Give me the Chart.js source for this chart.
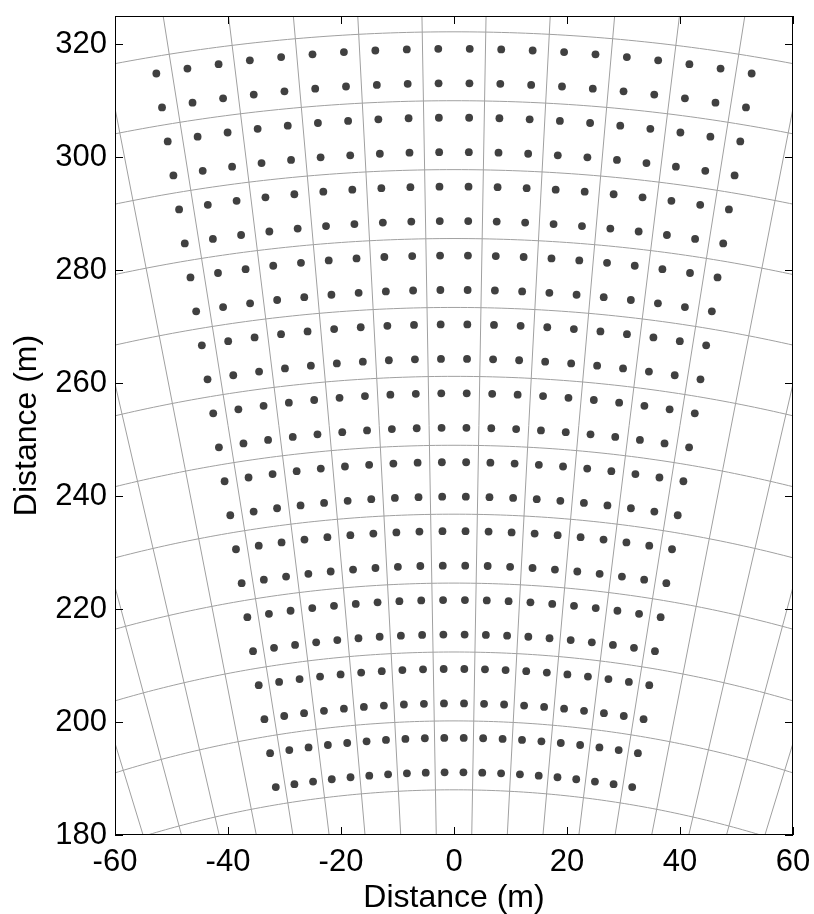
<!DOCTYPE html>
<html>
<head>
<meta charset="utf-8">
<script src="https://cdn.jsdelivr.net/npm/chart.js@4.4.1/dist/chart.umd.min.js"></script>
<style>
    html, body { margin: 0; padding: 0; background: #fff; }
    #wrap { width: 814px; height: 914px; }
</style>
</head>
<body>
<div id="wrap"><canvas id="gateChart"></canvas></div>
<script>
// range gates (m) of the sample points, near to far
const gateRanges = [191.1, 197.2, 203.3, 209.4, 215.5, 221.6, 227.7, 233.8, 239.9, 246.0, 252.1,
    258.2, 264.3, 270.4, 276.5, 282.6, 288.7, 294.8, 300.9, 307.0, 313.1, 319.2];
// beam azimuths (deg from the y axis)
const beamAzimuths = [-9.5, -8.5, -7.5, -6.5, -5.5, -4.5, -3.5, -2.5, -1.5, -0.5,
    0.5, 1.5, 2.5, 3.5, 4.5, 5.5, 6.5, 7.5, 8.5, 9.5];
// polar grid: range rings (m) and spokes (deg)
const ringRanges = [188.0, 200.2, 212.4, 224.6, 236.8, 249.0, 261.2, 273.4, 285.6, 297.8, 310.0, 322.2];
const spokeAzimuths = [-17, -15, -13, -11, -9, -7, -5, -3, -1, 1, 3, 5, 7, 9, 11, 13, 15, 17];
const xTicks = [-60, -40, -20, 0, 20, 40, 60];
const yTicks = [180, 200, 220, 240, 260, 280, 300, 320];

const FONT = "'Liberation Sans', Arial, sans-serif";
const rad = d => d * Math.PI / 180;

// polar -> cartesian
const points = [];
gateRanges.forEach(r => {
    beamAzimuths.forEach(a => {
        points.push({ x: r * Math.sin(rad(a)), y: r * Math.cos(rad(a)) });
    });
});

// rings and spokes, drawn under the dots through the scales
const polarGrid = {
    id: 'polarGrid',
    beforeDatasetsDraw(chart) {
        const { ctx, chartArea: a, scales: { x, y } } = chart;
        ctx.save();
        ctx.beginPath();
        ctx.rect(a.left, a.top, a.right - a.left, a.bottom - a.top);
        ctx.clip();
        ctx.strokeStyle = '#a0a0a0';
        ctx.lineWidth = 1;
        spokeAzimuths.forEach(az => {
            ctx.beginPath();
            ctx.moveTo(x.getPixelForValue(0), y.getPixelForValue(0));
            ctx.lineTo(x.getPixelForValue(400 * Math.sin(rad(az))), y.getPixelForValue(400 * Math.cos(rad(az))));
            ctx.stroke();
        });
        ringRanges.forEach(r => {
            ctx.beginPath();
            for (let d = -25; d <= 25; d += 0.25) {
                const px = x.getPixelForValue(r * Math.sin(rad(d)));
                const py = y.getPixelForValue(r * Math.cos(rad(d)));
                if (d === -25) ctx.moveTo(px, py); else ctx.lineTo(px, py);
            }
            ctx.stroke();
        });
        ctx.restore();
    }
};

// box with inward ticks on all four sides
const boxTicks = {
    id: 'boxTicks',
    afterDatasetsDraw(chart) {
        const { ctx, chartArea: a, scales: { x, y } } = chart;
        const len = 8;
        ctx.save();
        ctx.strokeStyle = '#000';
        ctx.lineWidth = 1;
        ctx.strokeRect(a.left + 0.5, a.top + 0.5, a.right - a.left - 1, a.bottom - a.top - 1);
        ctx.beginPath();
        xTicks.forEach(v => {
            const px = Math.round(x.getPixelForValue(v)) + 0.5;
            ctx.moveTo(px, a.bottom); ctx.lineTo(px, a.bottom - len);
            ctx.moveTo(px, a.top); ctx.lineTo(px, a.top + len);
        });
        yTicks.forEach(v => {
            const py = Math.round(y.getPixelForValue(v)) + 0.5;
            ctx.moveTo(a.left, py); ctx.lineTo(a.left + len, py);
            ctx.moveTo(a.right, py); ctx.lineTo(a.right - len, py);
        });
        ctx.stroke();
        ctx.restore();
    }
};

// fixed axis boxes, no extra padding for overhanging labels
function fixBox(s, size) {
    if (s.isHorizontal()) s.height = size; else s.width = size;
    s.paddingLeft = 0; s.paddingRight = 0; s.paddingTop = 0; s.paddingBottom = 0;
}

new Chart(document.getElementById('gateChart'), {
    type: 'scatter',
    data: {
        datasets: [{
            data: points,
            pointRadius: 3.9,
            pointBackgroundColor: '#404040',
            pointBorderColor: '#404040',
            pointBorderWidth: 0
        }]
    },
    options: {
        responsive: true,
        maintainAspectRatio: false,
        animation: false,
        layout: { padding: { top: 16, right: 21, left: 0, bottom: 0 } },
        plugins: { legend: { display: false }, tooltip: { enabled: false } },
        scales: {
            x: {
                type: 'linear', min: -60, max: 60,
                afterBuildTicks: s => { s.ticks = xTicks.map(v => ({ value: v })); },
                afterFit: s => fixBox(s, 79),
                grid: { display: false, drawTicks: false },
                border: { display: false },
                ticks: { color: '#000', padding: 9, maxRotation: 0, font: { family: FONT, size: 31 } },
                title: { display: true, text: 'Distance (m)', color: '#000', padding: { top: 0, bottom: 0 }, font: { family: FONT, size: 32, lineHeight: 1 } }
            },
            y: {
                type: 'linear', min: 180, max: 325,
                afterBuildTicks: s => { s.ticks = yTicks.map(v => ({ value: v })); },
                afterFit: s => fixBox(s, 115),
                grid: { display: false, drawTicks: false },
                border: { display: false },
                ticks: { color: '#000', padding: 8, font: { family: FONT, size: 31 } },
                title: { display: true, text: 'Distance (m)', color: '#000', padding: { top: 11, bottom: 0 }, font: { family: FONT, size: 32, lineHeight: 1 } }
            }
        }
    },
    plugins: [polarGrid, boxTicks]
});
</script>
</body>
</html>
